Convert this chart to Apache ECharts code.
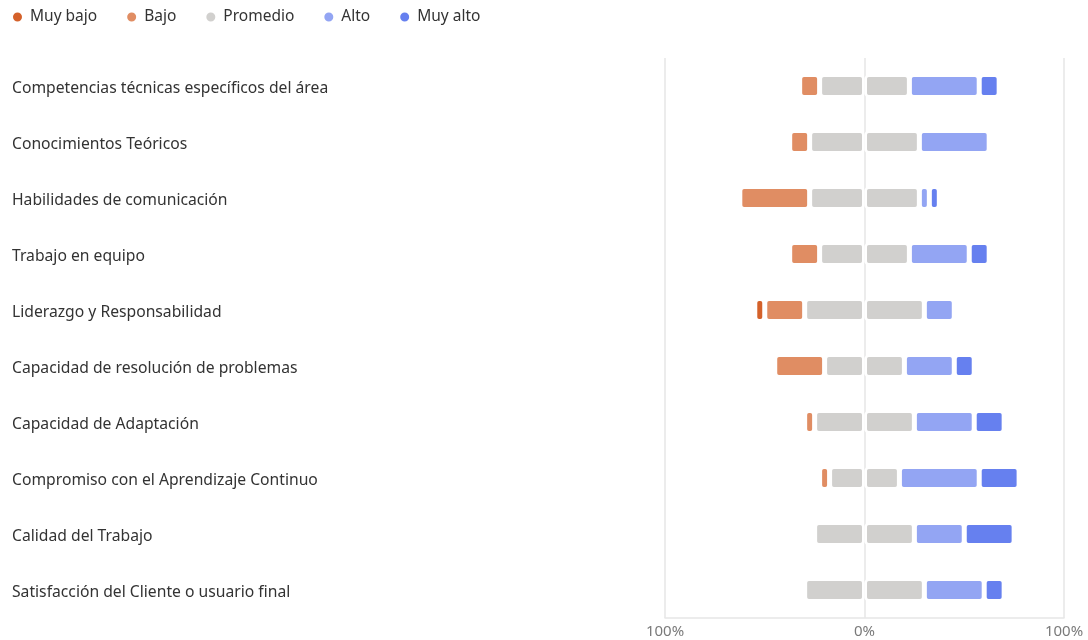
<!DOCTYPE html>
<html>
<head>
<meta charset="utf-8">
<script src="https://cdn.jsdelivr.net/npm/echarts@6/dist/echarts.min.js"></script>
<style>
  html, body { margin: 0; padding: 0; background: #fff; }
  #chart { width: 1088px; height: 640px; }
</style>
</head>
<body>
<div id="chart"></div>
<script>
// Competencias evaluadas (de arriba hacia abajo)
const categories = [
  'Competencias técnicas específicos del área',
  'Conocimientos Teóricos',
  'Habilidades de comunicación',
  'Trabajo en equipo',
  'Liderazgo y Responsabilidad',
  'Capacidad de resolución de problemas',
  'Capacidad de Adaptación',
  'Compromiso con el Aprendizaje Continuo',
  'Calidad del Trabajo',
  'Satisfacción del Cliente o usuario final'
];

// Porcentaje de respuestas por nivel
const muyBajo  = [0, 0, 0, 0, 5, 0, 0, 0, 0, 0];
const bajo     = [10, 10, 35, 15, 20, 25, 5, 5, 0, 0];
const promedio = [45, 55, 55, 45, 60, 40, 50, 35, 50, 60];
const alto     = [35, 35, 5, 30, 15, 25, 30, 40, 25, 30];
const muyAlto  = [10, 0, 5, 10, 0, 10, 15, 20, 25, 10];

const levelNames = ['Muy bajo', 'Bajo', 'Promedio', 'Alto', 'Muy alto'];
const tickLabels = { '-100': '100%', '0': '0%', '100': '100%' };

const colors = {
  'Muy bajo': '#D4612A',
  'Bajo': '#E08D63',
  'Promedio': '#D1D0CE',
  'Alto': '#93A5F3',
  'Muy alto': '#6680EF'
};

// El promedio se reparte a ambos lados del 0; los niveles bajos van a la izquierda
const halfPromedio = promedio.map(v => v / 2);
const neg = arr => arr.map(v => v === 0 ? null : -v);
const pos = arr => arr.map(v => v === 0 ? null : v);

function barSeries(name, data) {
  return {
    name: name,
    type: 'bar',
    stack: 'total',
    barWidth: 23,
    data: data,
    itemStyle: {
      color: colors[name],
      borderColor: '#ffffff',
      borderWidth: 2.5,
      borderRadius: 3
    },
    emphasis: { disabled: true }
  };
}

const chart = echarts.init(document.getElementById('chart'), null, { renderer: 'canvas' });

chart.setOption({
  animation: false,
  textStyle: { fontFamily: 'Noto Sans, Open Sans, sans-serif' },
  legend: {
    data: levelNames,
    left: 6,
    top: 4,
    icon: 'circle',
    itemWidth: 15,
    itemHeight: 11,
    itemGap: 28,
    textStyle: { fontSize: 15.5, color: '#333333', fontFamily: 'Noto Sans' }
  },
  grid: {
    left: 665,
    right: 24,
    top: 58,
    bottom: 22,
    containLabel: false
  },
  xAxis: {
    type: 'value',
    min: -100,
    max: 100,
    interval: 100,
    axisLine: { show: true, lineStyle: { color: '#E6E6E6', width: 1.5 } },
    axisTick: { show: false },
    splitLine: { show: true, lineStyle: { color: '#E6E6E6', width: 1.5 } },
    axisLabel: {
      color: '#7A7A7A',
      fontSize: 15,
      margin: 6,
      fontFamily: 'Noto Sans',
      formatter: v => tickLabels[String(v)]
    }
  },
  yAxis: {
    type: 'category',
    data: categories,
    inverse: true,
    axisLine: { show: false },
    axisTick: { show: false },
    splitLine: { show: false },
    axisLabel: {
      align: 'left',
      margin: 653,
      color: '#333333',
      formatter: v => '{c|' + v + '}',
      rich: {
        c: {
          fontSize: 15.7,
          color: '#333333',
          fontFamily: 'Noto Sans',
          padding: [6, 0, 0, 0]
        }
      }
    }
  },
  series: [
    barSeries('Promedio', neg(halfPromedio)),
    barSeries('Bajo', neg(bajo)),
    barSeries('Muy bajo', neg(muyBajo)),
    barSeries('Promedio', pos(halfPromedio)),
    barSeries('Alto', pos(alto)),
    barSeries('Muy alto', pos(muyAlto))
  ]
});
</script>
</body>
</html>
